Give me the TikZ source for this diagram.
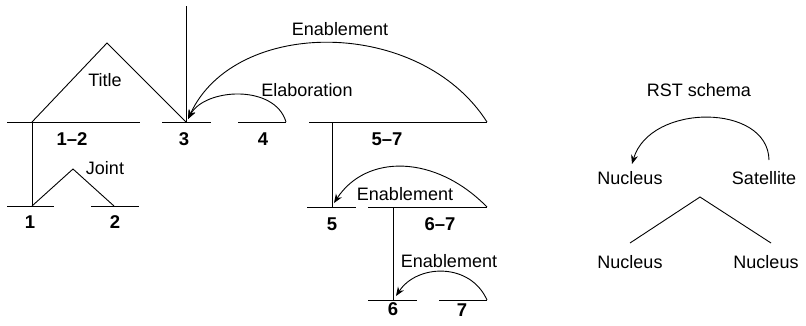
\documentclass[tikz,border=0pt]{standalone}
\usepackage{fontspec}
\setmainfont{Liberation Sans}
\usetikzlibrary{arrows.meta}
\begin{document}
\begin{tikzpicture}[x=1pt,y=-1pt,line width=0.9pt,
  lbl/.style={anchor=base,inner sep=0pt,font=\fontsize{18}{21}\selectfont},
  num/.style={anchor=base,inner sep=0pt,font=\fontsize{18.5}{21}\selectfont\bfseries},
  rel/.style={-{Stealth[length=9pt,width=7pt]}}]
\useasboundingbox (0,0) rectangle (806,325);
% span coordinates
\coordinate (s12a) at (7,122);   \coordinate (s12b) at (140,122);
\coordinate (s3a) at (162,122);  \coordinate (s3b) at (211,122);
\coordinate (s4a) at (238,122);  \coordinate (s4b) at (286,122);
\coordinate (s57a) at (309,122); \coordinate (s57b) at (487,122);
\coordinate (s1a) at (7,206);    \coordinate (s1b) at (54,206);
\coordinate (s2a) at (91,206);   \coordinate (s2b) at (139,206);
\coordinate (s5a) at (307,207);  \coordinate (s5b) at (356,207);
\coordinate (s67a) at (368,207); \coordinate (s67b) at (487,207);
\coordinate (s6a) at (368,300);  \coordinate (s6b) at (417,300);
\coordinate (s7a) at (439,300);  \coordinate (s7b) at (487,300);
\coordinate (top3) at (186,6);   \coordinate (n3) at (186,122);
\coordinate (n12) at (32,122);   \coordinate (n1) at (32,206);
\coordinate (n2) at (114,206);   \coordinate (apT) at (107,43);
\coordinate (apJ) at (73,169);
\coordinate (n57) at (332,122);  \coordinate (n5) at (332,207);
\coordinate (n67) at (393,207);  \coordinate (n6) at (393,300);
\coordinate (t3) at (188,119);   \coordinate (t5) at (334,203);
\coordinate (t6) at (396,296);
% spans
\foreach \a/\b in {s12a/s12b,s3a/s3b,s4a/s4b,s57a/s57b,s1a/s1b,s2a/s2b,s5a/s5b,s67a/s67b,s6a/s6b,s7a/s7b}
  \draw (\a) -- (\b);
% verticals
\draw (top3) -- (n3);
\draw (n12) -- (n1);
\draw (n57) -- (n5);
\draw (n67) -- (n6);
% multinuclear
\draw (n12) -- (apT) -- (n3);
\draw (n1) -- (apJ) -- (n2);
% relations
\draw[rel] (s57b) .. controls (420,17) and (235,17) .. (t3);
\draw[rel] (s4b) .. controls (275,84) and (205,88) .. (t3);
\draw[rel] (s67b) .. controls (435,154) and (366,154) .. (t5);
\draw[rel] (s7b) .. controls (470,262) and (417,264) .. (t6);
% labels
\node[lbl] (lTitle) at (105,86) {Title};
\node[lbl] (lJoint) at (105,174) {Joint};
\node[lbl] (lElab) at (307,96) {Elaboration};
\node[lbl] (lEn1) at (340,35) {Enablement};
\node[lbl] (lEn2) at (405,200) {Enablement};
\node[lbl] (lEn3) at (449,267) {Enablement};
\node[num] (l12) at (72,145) {1–2};
\node[num] (l3) at (184,145) {3};
\node[num] (l4) at (263,145) {4};
\node[num] (l57) at (387,145) {5–7};
\node[num] (l1) at (30,228) {1};
\node[num] (l2) at (115,228) {2};
\node[num] (l5) at (332,230) {5};
\node[num] (l67) at (440,230) {6–7};
\node[num] (l6) at (393,315) {6};
\node[num] (l7) at (462,316) {7};
% RST schema
\node[lbl] (rst) at (699,96) {RST schema};
\node[lbl] (nuc) at (630,184) {Nucleus};
\node[lbl] (sat) at (764,184) {Satellite};
\node[lbl] (nucL) at (630,268) {Nucleus};
\node[lbl] (nucR) at (766,268) {Nucleus};
\coordinate (satS) at (769,160);
\coordinate (nucT) at (632,164);
\draw[rel] (satS) .. controls (768,103) and (650,103) .. (nucT);
\coordinate (trL) at (630,243);
\coordinate (trA) at (700,197);
\coordinate (trR) at (771,243);
\draw (trL) -- (trA) -- (trR);
\end{tikzpicture}
\end{document}
